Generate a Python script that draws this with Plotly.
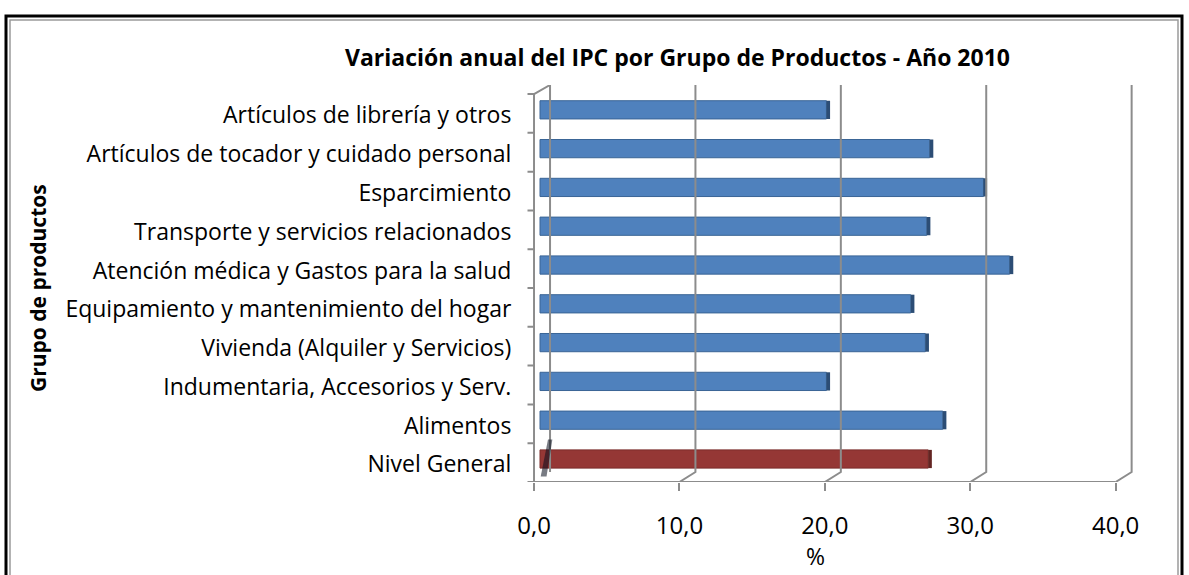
import plotly.graph_objects as go

# ---------------- data ----------------
categories = [
    "Nivel General",
    "Alimentos",
    "Indumentaria, Accesorios y Serv.",
    "Vivienda (Alquiler y Servicios)",
    "Equipamiento y mantenimiento del hogar",
    "Atención médica y Gastos para la salud",
    "Transporte y servicios relacionados",
    "Esparcimiento",
    "Artículos de tocador y cuidado personal",
    "Artículos de librería y otros",
]
values = [26.7, 27.7, 19.7, 26.5, 25.5, 32.3, 26.6, 30.5, 26.8, 19.7]
x_tick_values = [0, 10, 20, 30, 40]
x_tick_text = ["0,0", "10,0", "20,0", "30,0", "40,0"]
title_text = "Variación anual del IPC por Grupo de Productos - Año 2010"
y_title = "Grupo de productos"
x_title = "%"

# ---------------- style ----------------
PAGE_OFF = 0                 # body margin removed via post_script
W, H = 1189 - PAGE_OFF, 575 - PAGE_OFF
FONT = "Open Sans"
BLUE, BLUE_SIDE, BLUE_EDGE = "#4F81BD", "#2C4D75", "#3A6596"
RED, RED_SIDE, RED_EDGE = "#953735", "#632523", "#7A2C2A"
GRID = "#8C8C8C"
FRONT_OFF = -0.41   # front axis offset (3D depth) in value units
BACK_OFF = 0.69     # back wall offset in value units
Y_FRONT_BOT, Y_FRONT_TOP = -0.593, 9.407
Y_BACK_BOT, Y_BACK_TOP = -0.335, 9.64
LABEL_OFF = 0.14
SIDE_W = 0.25
BAR_W = 0.47
PX_PER_UNIT = 14.54
X_RANGE = [-1.9, 42]


def fx(px):
    return (px - PAGE_OFF) / W


def fy(py):
    return 1 - (py - PAGE_OFF) / H


px_x0 = 540 + X_RANGE[0] * PX_PER_UNIT
px_x1 = 540 + X_RANGE[1] * PX_PER_UNIT

pos = list(range(len(categories)))
colors = [RED if i == 0 else BLUE for i in pos]
side_colors = [RED_SIDE if i == 0 else BLUE_SIDE for i in pos]
edge_colors = [RED_EDGE if i == 0 else BLUE_EDGE for i in pos]

fig = go.Figure()

# back wall gridlines with perspective connectors
gx, gy = [], []
for t in x_tick_values:
    gx += [t + BACK_OFF, t + BACK_OFF]
    gy += [Y_BACK_TOP, Y_BACK_BOT]
    if t > 0:
        gx += [t + FRONT_OFF]
        gy += [Y_FRONT_BOT]
    gx.append(None)
    gy.append(None)
fig.add_trace(go.Scatter(x=gx, y=gy, mode="lines", line=dict(color=GRID, width=2),
                         hoverinfo="skip", showlegend=False))

# front axis lines (left vertical + bottom) and left tick marks
ax_x = [0 + BACK_OFF, 0 + FRONT_OFF, 0 + FRONT_OFF, x_tick_values[-1] + FRONT_OFF]
ax_y = [Y_BACK_TOP, Y_FRONT_TOP, Y_FRONT_BOT, Y_FRONT_BOT]
fig.add_trace(go.Scatter(x=ax_x, y=ax_y, mode="lines", line=dict(color=GRID, width=2),
                         hoverinfo="skip", showlegend=False))
tx, ty = [], []
for k in range(len(categories) + 1):
    yv = Y_FRONT_BOT + k
    tx += [FRONT_OFF - 0.45, FRONT_OFF, None]
    ty += [yv, yv, None]
fig.add_trace(go.Scatter(x=tx, y=ty, mode="lines", line=dict(color=GRID, width=2),
                         hoverinfo="skip", showlegend=False))

# dark floor shading artefact near origin
fig.add_trace(go.Scatter(x=[0.05, 0.45, 0.85, 0.55, 0.05], y=[-0.45, -0.45, 0.5, 0.5, -0.45],
                         mode="lines", fill="toself", fillcolor="rgba(10,15,30,0.55)",
                         line=dict(width=0), hoverinfo="skip", showlegend=False))

# bars (front face)
fig.add_trace(go.Bar(
    y=pos, x=values, orientation="h", width=BAR_W,
    marker=dict(color=colors, line=dict(color=edge_colors, width=1)),
    showlegend=False, hovertemplate="%{x:.1f}<extra></extra>",
))
# bars (side face for 3D look)
fig.add_trace(go.Bar(
    y=pos, x=[SIDE_W] * len(values), base=values, orientation="h", width=BAR_W,
    marker=dict(color=side_colors, line=dict(width=0)),
    showlegend=False, hoverinfo="skip",
))

fig.update_layout(
    width=W, height=H, autosize=False,
    margin=dict(l=0, r=0, t=0, b=0),
    paper_bgcolor="white", plot_bgcolor="white",
    barmode="overlay",
    font=dict(family=FONT, color="#000000"),
    xaxis=dict(
        range=X_RANGE, domain=[fx(px_x0), fx(px_x1)],
        tickvals=[t + FRONT_OFF for t in x_tick_values], ticktext=x_tick_text,
        ticks="outside", ticklen=8, tickwidth=2, tickcolor=GRID,
        ticklabelstandoff=14,
        tickfont=dict(size=24, family=FONT, color="#000"),
        showgrid=False, zeroline=False, showline=False, fixedrange=True,
    ),
    yaxis=dict(
        range=[Y_FRONT_BOT, Y_BACK_TOP],
        domain=[fy(482), fy(85)],
        tickvals=[p - LABEL_OFF for p in pos], ticktext=categories,
        ticks="", ticklabelstandoff=0,
        tickfont=dict(size=23, family=FONT, color="#000"),
        showgrid=False, zeroline=False, showline=False, fixedrange=True,
    ),
    annotations=[
        dict(text="<b>" + title_text + "</b>", xref="paper", yref="paper",
             x=fx(677), y=fy(57), xanchor="center", yanchor="middle",
             showarrow=False, font=dict(size=23, family=FONT, color="#000")),
        dict(text="<b>" + y_title + "</b>", xref="paper", yref="paper",
             x=fx(38), y=fy(288), xanchor="center", yanchor="middle",
             textangle=-90, showarrow=False, font=dict(size=21, family=FONT, color="#000")),
        dict(text=x_title, xref="paper", yref="paper",
             x=fx(815), y=fy(556), xanchor="center", yanchor="middle",
             showarrow=False, font=dict(size=23, family=FONT, color="#000")),
    ],
    shapes=[
        dict(type="rect", xref="paper", yref="paper",
             x0=fx(6), x1=fx(1182), y0=-0.1, y1=fy(16),
             line=dict(color="#000000", width=3), fillcolor="rgba(0,0,0,0)", layer="below"),
        dict(type="rect", xref="paper", yref="paper",
             x0=fx(10), x1=fx(1178), y0=-0.1, y1=fy(20),
             line=dict(color="#9A9A9A", width=1.5), fillcolor="rgba(0,0,0,0)", layer="below"),
    ],
)

fig.write_html("out.html", config={"displayModeBar": False},
               post_script="document.body.style.margin='0px';")
